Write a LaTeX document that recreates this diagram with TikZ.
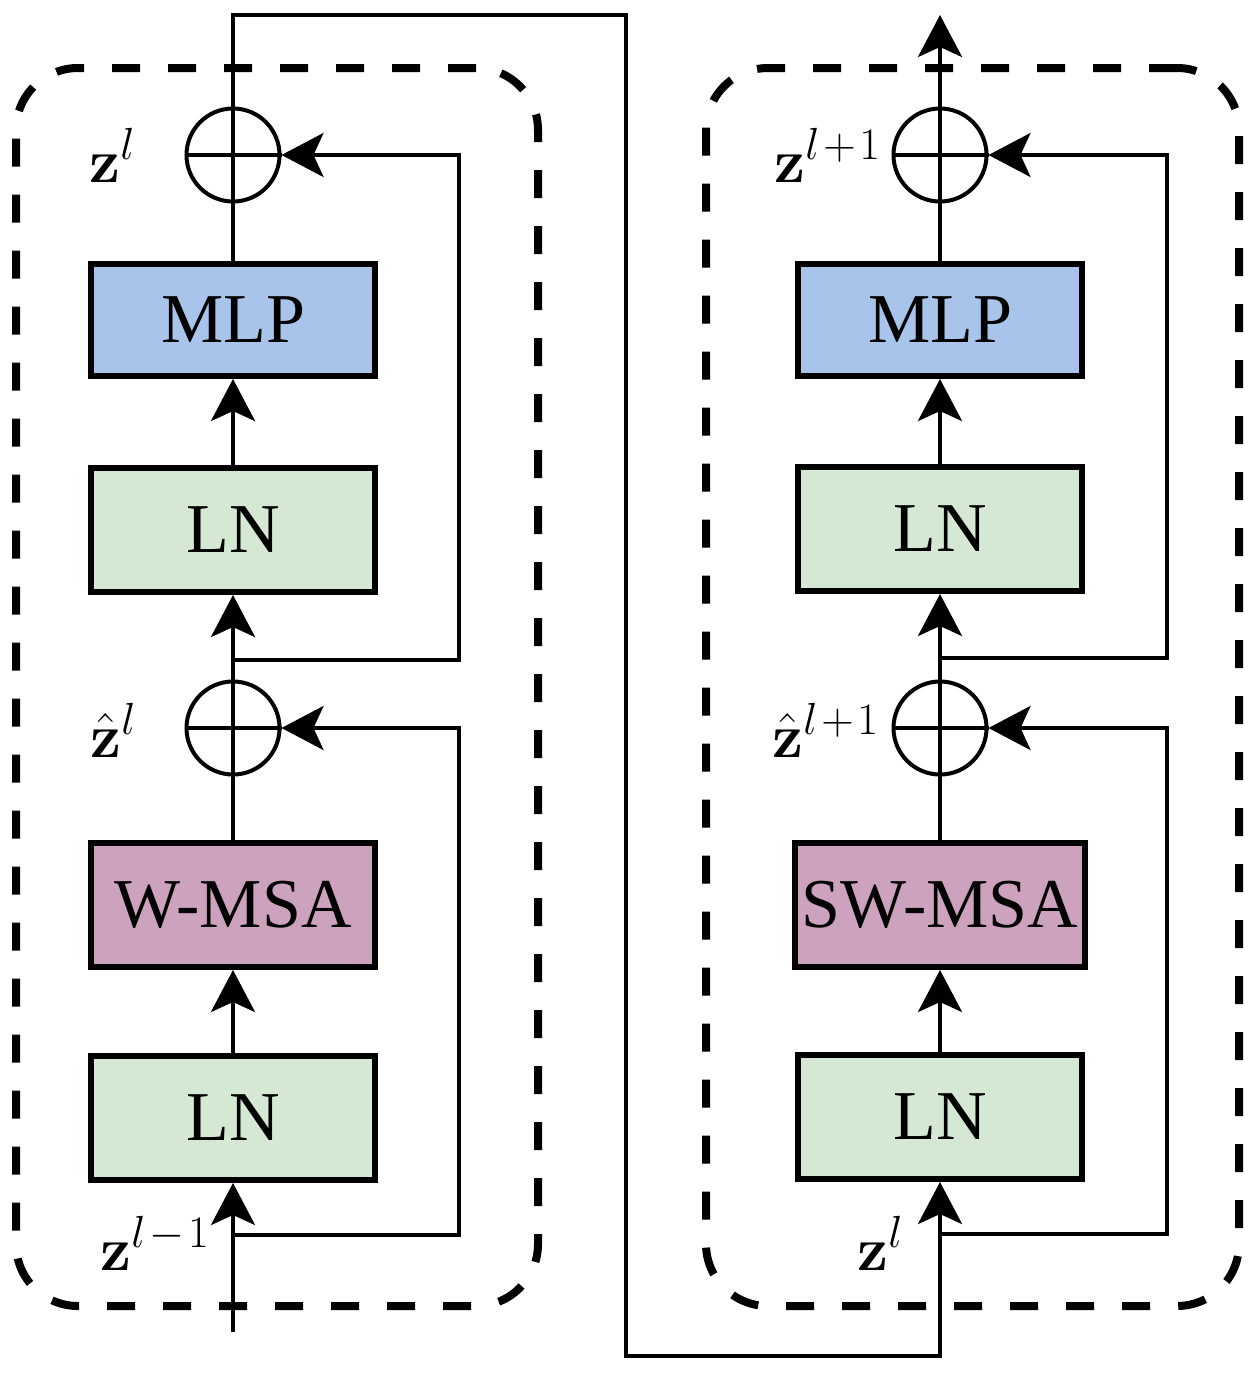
\RequirePackage{fix-cm}
\documentclass[tikz,border=0pt]{standalone}
\usepackage[no-math]{fontspec}
\setmainfont{Liberation Serif}
\DeclareMathSizes{31}{31}{22.5}{16}
\usetikzlibrary{arrows.meta,calc}
\definecolor{mlpblue}{HTML}{A9C4EB}
\definecolor{lngreen}{HTML}{D5E8D4}
\definecolor{msapink}{HTML}{CDA2BE}
\newcommand{\supsp}{\mkern1.5mu}
\begin{document}
\begin{tikzpicture}[x=0.5pt,y=-0.5pt,
  box/.style={draw, line width=3pt, minimum width=142pt, minimum height=62pt, inner sep=0pt, font=\fontsize{35}{42}\selectfont},
  addc/.style={circle, draw, line width=2pt, minimum size=46.5pt, inner sep=0pt},
  dbox/.style={draw, line width=4pt, dash pattern=on 14pt off 14pt, rounded corners=31pt, inner sep=0pt, minimum height=619pt},
  conn/.style={line width=2pt},
  arr/.style={conn, -{Stealth[length=21pt,width=22pt,inset=5pt]}},
  lab/.style={anchor=base west, inner sep=0pt, font=\fontsize{31}{36}\selectfont}
]
\useasboundingbox (0,0) rectangle (1258,1376);

% dashed groups
\node[dbox, minimum width=261pt] (g1) at (277,687) {};
\node[dbox, minimum width=266.5pt] (g2) at (972.5,687) {};

% left column
\node[box, fill=mlpblue, minimum height=56pt] (mlp1) at (233,320) {MLP};
\node[box, fill=lngreen] (ln1a) at (233,530) {LN};
\node[box, fill=msapink] (msa1) at (233,905) {W-MSA};
\node[box, fill=lngreen] (ln1b) at (233,1118) {LN};
\node[addc] (p1a) at (233,155) {};
\node[addc] (p1b) at (233,728) {};

% right column
\node[box, fill=mlpblue, minimum height=56pt] (mlp2) at (940,320) {MLP};
\node[box, fill=lngreen] (ln2a) at (940,529) {LN};
\node[box, fill=msapink, minimum width=145pt] (msa2) at (940,905) {SW-MSA};
\node[box, fill=lngreen] (ln2b) at (940,1117) {LN};
\node[addc] (p2a) at (940,155) {};
\node[addc] (p2b) at (940,728) {};

% crosses in the adders
\foreach \p in {p1a,p1b,p2a,p2b}{
  \draw[conn] (\p.north) -- (\p.south) (\p.west) -- (\p.east);
}

% coordinates
\coordinate (in1) at (233,1332);
\coordinate (b1) at (233,1235);
\coordinate (b2) at (233,660);
\coordinate (b3) at (940,1234);
\coordinate (b4) at (940,658);
\coordinate (t1) at (233,15);
\coordinate (t2) at (626,1356);
\coordinate (out) at (940,15);

% left connectors
\draw[arr] (in1) -- (ln1b.south);
\draw[arr] (ln1b.north) -- (msa1.south);
\draw[conn] (msa1.north) -- (p1b.south);
\draw[arr] (p1b.north) -- (ln1a.south);
\draw[arr] (ln1a.north) -- (mlp1.south);
\draw[conn] (mlp1.north) -- (p1a.south);
\draw[arr] (b1) -- ++(226,0) |- (p1b.east);
\draw[arr] (b2) -- ++(226,0) |- (p1a.east);

% link between blocks
\draw[arr] (p1a.north) -- (t1) -| (t2) -| (ln2b.south);

% right connectors
\draw[arr] (ln2b.north) -- (msa2.south);
\draw[conn] (msa2.north) -- (p2b.south);
\draw[arr] (p2b.north) -- (ln2a.south);
\draw[arr] (ln2a.north) -- (mlp2.south);
\draw[conn] (mlp2.north) -- (p2a.south);
\draw[arr] (p2a.north) -- (out);
\draw[arr] (b3) -- ++(227,0) |- (p2b.east);
\draw[arr] (b4) -- ++(227,0) |- (p2a.east);

% labels
\node[lab] (l1) at (89,182) {$\mathbf{z}^{l}$};
\node[lab] (l2) at (90,757) {$\hat{\mathbf{z}}^{l}$};
\node[lab] (l3) at (100,1270) {$\mathbf{z}^{l\supsp-\supsp1}$};
\node[lab] (r1) at (774,182) {$\mathbf{z}^{l\supsp+\supsp1}$};
\node[lab] (r2) at (772,757) {$\hat{\mathbf{z}}^{l\supsp+\supsp1}$};
\node[lab] (r3) at (857,1270) {$\mathbf{z}^{l}$};
\end{tikzpicture}
\end{document}
